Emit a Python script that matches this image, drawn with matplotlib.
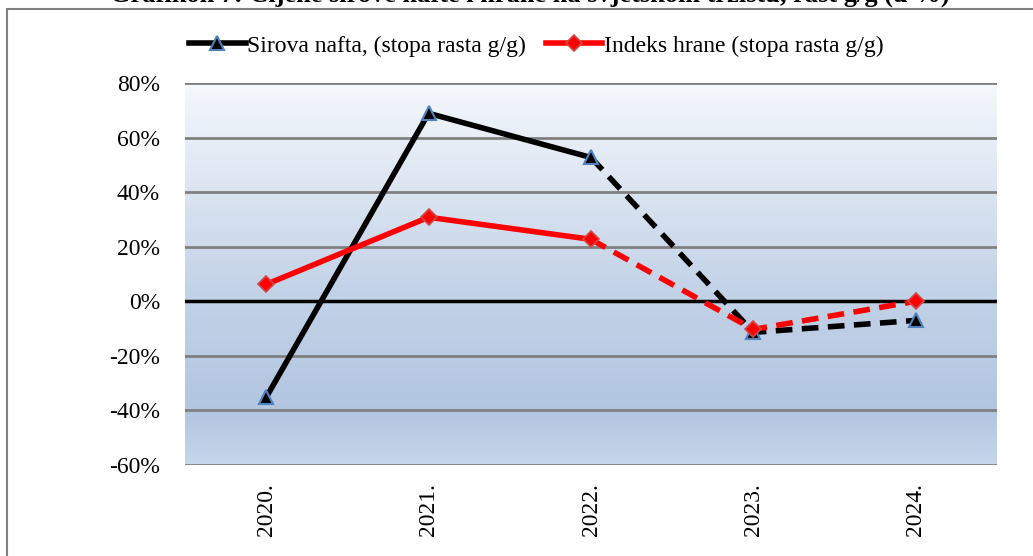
import matplotlib
matplotlib.use("Agg")
import matplotlib.pyplot as plt
import numpy as np
from matplotlib.colors import LinearSegmentedColormap
from matplotlib.lines import Line2D
from matplotlib.patches import Rectangle

categories = ["2020.", "2021.", "2022.", "2023.", "2024."]
oil = [-35.2, 68.9, 52.7, -11.4, -7.0]
food = [6.2, 30.8, 22.7, -10.3, 0.0]
yticks = [-60, -40, -20, 0, 20, 40, 60, 80]
title = "Grafikon 7: Cijene sirove nafte i hrane na svjetskom tržištu, rast g/g (u %)"
oil_label = "Sirova nafta, (stopa rasta g/g)"
food_label = "Indeks hrane (stopa rasta g/g)"

plt.rcParams['font.family'] = ['Liberation Serif', 'DejaVu Serif']

W, H = 1033, 556
fig = plt.figure(figsize=(W/100, H/100), dpi=100)
ax = fig.add_axes([185/W, 1-465/H, (997-185)/W, (465-83)/H])

x = np.arange(len(categories))
ax.set_xlim(-0.5, len(categories)-0.5)
ax.set_ylim(-60, 80)

# gradient background
cmap = LinearSegmentedColormap.from_list("bg", [
    (0.0, "#c6d6eb"), (0.14, "#b3c6e0"), (0.45, "#c2d2e7"), (1.0, "#f5f8fc")])
grad = np.linspace(0, 1, 256).reshape(-1, 1)
ax.imshow(grad, cmap=cmap, aspect='auto', extent=[-0.5, len(categories)-0.5, -60, 80],
          origin='lower', zorder=0)

for yv in yticks:
    if yv == 0:
        continue
    ax.axhline(yv, color="#808080", lw=2, zorder=1)
ax.axhline(0, color="black", lw=2.5, zorder=2)

tri_kw = dict(marker='^', markersize=10, markerfacecolor='black', markeredgecolor='#4f81bd', markeredgewidth=1.5)
dia_kw = dict(marker='D', markersize=8.5, markerfacecolor='#ff0000', markeredgecolor='#d04848', markeredgewidth=1.2)

dash = (0, (3.0, 1.7))
ax.plot(x[:3], oil[:3], color='black', lw=4, zorder=3)
ax.plot(x[2:], oil[2:], color='black', lw=4, ls=dash, zorder=3)
ax.plot(x, oil, ls='none', zorder=4, **tri_kw)

ax.plot(x[:3], food[:3], color='#ff0000', lw=4, zorder=5)
ax.plot(x[2:], food[2:], color='#ff0000', lw=4, ls=dash, zorder=5)
ax.plot(x, food, ls='none', zorder=6, **dia_kw)

ax.set_xticks(x)
ax.set_xticklabels(categories, rotation=90, fontsize=17)
ax.set_yticks(yticks)
ax.set_yticklabels([f"{v}%" for v in yticks], fontsize=17)
ax.tick_params(axis='y', length=0, pad=18)
ax.tick_params(axis='x', length=0, pad=13)
for s in ax.spines.values():
    s.set_visible(False)

handles = [Line2D([], [], color='black', lw=4, **tri_kw),
           Line2D([], [], color='#ff0000', lw=4, **dia_kw)]
fig.legend(handles, [oil_label, food_label], loc='center', bbox_to_anchor=(536/W, 1-46/H),
           ncol=2, frameon=False, fontsize=17, handlelength=2.4, handletextpad=0.05,
           columnspacing=0.85)

fig.text(530/W, 1+5/H, title, ha='center', va='center', fontsize=19, fontweight='bold')

fig.patches.append(Rectangle((7/W, -0.1), 1.2, 1-9/H+0.1, transform=fig.transFigure,
                             fill=False, edgecolor='#808080', lw=1.5, zorder=-1))

fig.savefig("out.png", dpi=100)
